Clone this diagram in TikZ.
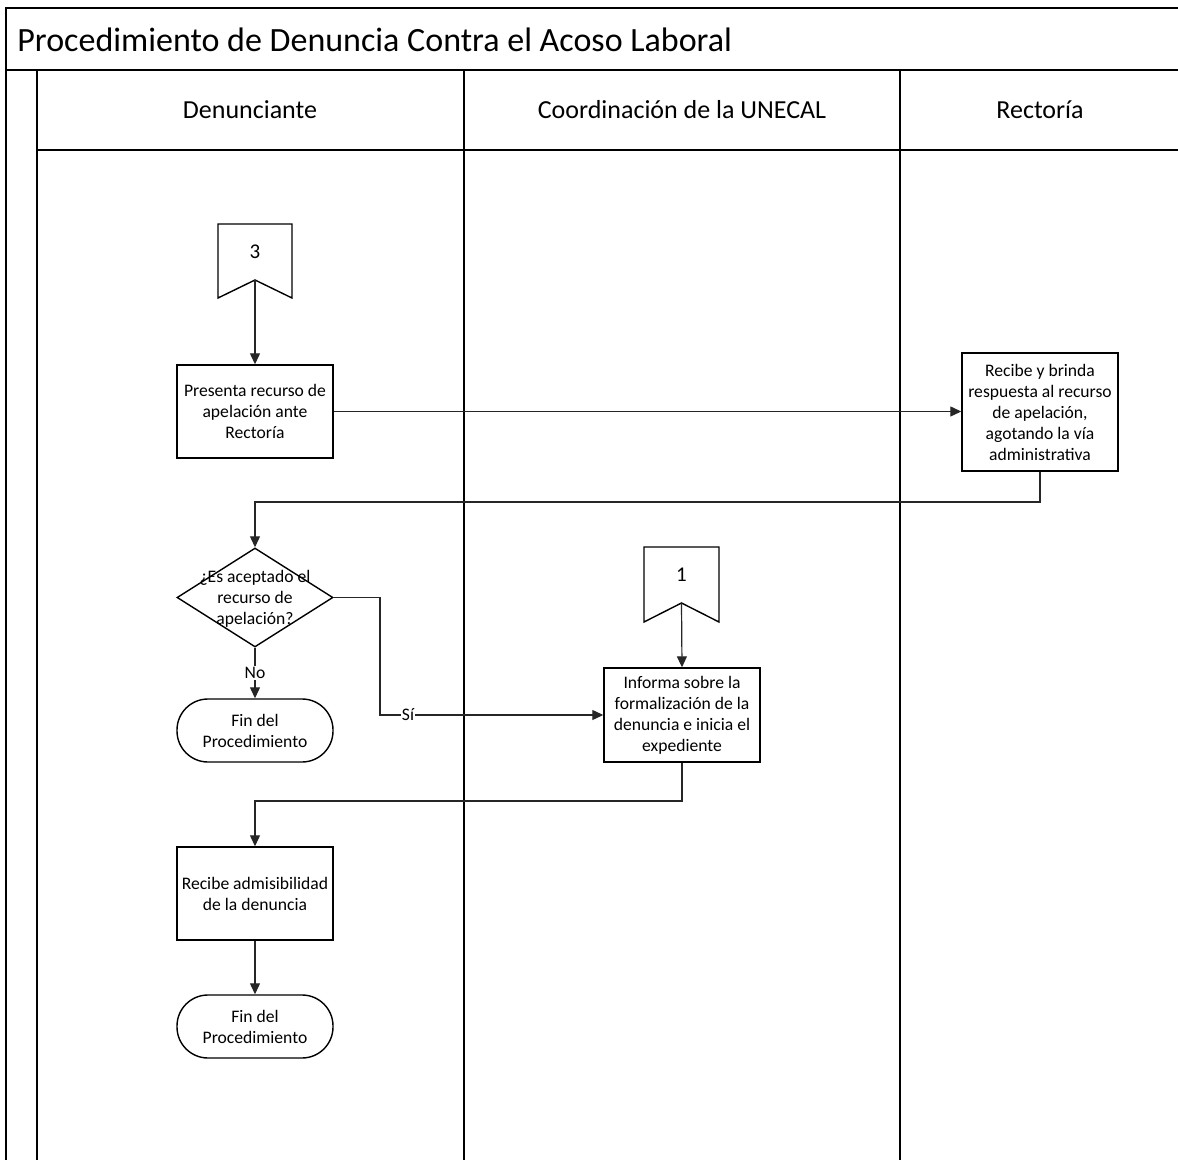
\documentclass[tikz,border=0pt]{standalone}
\usepackage{fontspec}
\setmainfont{Carlito}
\usetikzlibrary{arrows.meta,shapes.geometric}
\begin{document}
\begin{tikzpicture}[x=0.5pt,y=-0.5pt,
  frameline/.style={line width=1pt,draw=black},
  laneline/.style={line width=0.8pt,draw=black},
  txt/.style={font=\fontsize{8.8}{10.5}\selectfont,align=center},
  numtxt/.style={font=\fontsize{10.5}{12}\selectfont},
  box/.style={draw,line width=0.7pt,txt,inner sep=1pt,minimum width=78pt},
  term/.style={draw,line width=0.7pt,txt,rounded corners=15.5pt,minimum width=78pt,minimum height=31.5pt,inner sep=1pt},
  offpage/.style={draw,line width=0.7pt},
  flow/.style={line width=0.6pt,draw=black!85,-{Triangle[length=5.5pt,width=5pt]}},
  lbl/.style={txt,fill=white,inner sep=0.5pt},
  lanehead/.style={font=\fontsize{13}{15}\selectfont},
]
\useasboundingbox (0,0) rectangle (1178,1160);
\fill[white] (0,0) rectangle (1178,1160);
% frame and lanes
\draw[frameline] (6,1160) -- (6,8) -- (1178,8);
\draw[frameline] (6,70) -- (1178,70);
\draw[laneline] (37,150) -- (1178,150);
\draw[laneline] (37,70) -- (37,1160);
\draw[laneline] (464,70) -- (464,1160);
\draw[laneline] (900,70) -- (900,1160);
\node[anchor=west,font=\fontsize{17}{20}\selectfont,inner sep=0pt] (title) at (17,40) {Procedimiento de Denuncia Contra el Acoso Laboral};
\node[lanehead] (h1) at (250,110) {Denunciante};
\node[lanehead] (h2) at (682,110) {Coordinación de la UNECAL};
\node[lanehead] (h3) at (1040,110) {Rectoría};

% off-page connector 3
\draw[offpage] (218,224) -- (292,224) -- (292,298) -- (255,280) -- (218,298) -- cycle;
\node[numtxt] (c3) at (255,252) {3};
\coordinate (c3n) at (255,280);

% off-page connector 1
\draw[offpage] (644,547) -- (719,547) -- (719,622) -- (681.5,603) -- (644,622) -- cycle;
\node[numtxt] (c1) at (681.5,575) {1};
\coordinate (c1n) at (681.5,603);

% process boxes
\node[box,minimum height=46.5pt] (p1) at (255,411.5) {Presenta recurso de\\apelación ante\\Rectoría};
\node[box,minimum height=59pt] (r1) at (1040,412) {Recibe y brinda\\respuesta al recurso\\de apelación,\\agotando la vía\\administrativa};
\node[diamond,draw,line width=0.7pt,minimum width=78pt,minimum height=49.5pt,inner sep=0pt] (d1) at (255,597.5) {};
\node[txt] (d1t) at (255,598.5) {¿Es aceptado el\\recurso de\\apelación?};
\node[term] (t1) at (255,730.5) {Fin del\\Procedimiento};
\node[box,minimum height=47pt] (i1) at (682,715) {Informa sobre la\\formalización de la\\denuncia e inicia el\\expediente};
\node[box,minimum height=46.5pt] (p2) at (255,893.5) {Recibe admisibilidad\\de la denuncia};
\node[term] (t2) at (255,1026.5) {Fin del\\Procedimiento};

\coordinate (j1) at (255,502);
\coordinate (k1) at (380,597.5);
\coordinate (j2) at (255,801);

% connectors
\draw[flow] (c3n) -- (p1.north);
\draw[flow] (p1.east) -- (r1.west |- p1.east);
\draw[flow] (r1.south) |- (j1) -- (d1.north);
\draw[flow] (d1.south) -- (t1.north);
\draw[flow] (d1.east) -- (k1) |- (i1.west);
\draw[flow] (c1n) -- (i1.north);
\draw[flow] (i1.south) |- (j2) -- (p2.north);
\draw[flow] (p2.south) -- (t2.north);

% labels
\node[lbl] (lno) at (255,673) {No};
\node[lbl] (lsi) at (408,715) {Sí};
\end{tikzpicture}
\end{document}
